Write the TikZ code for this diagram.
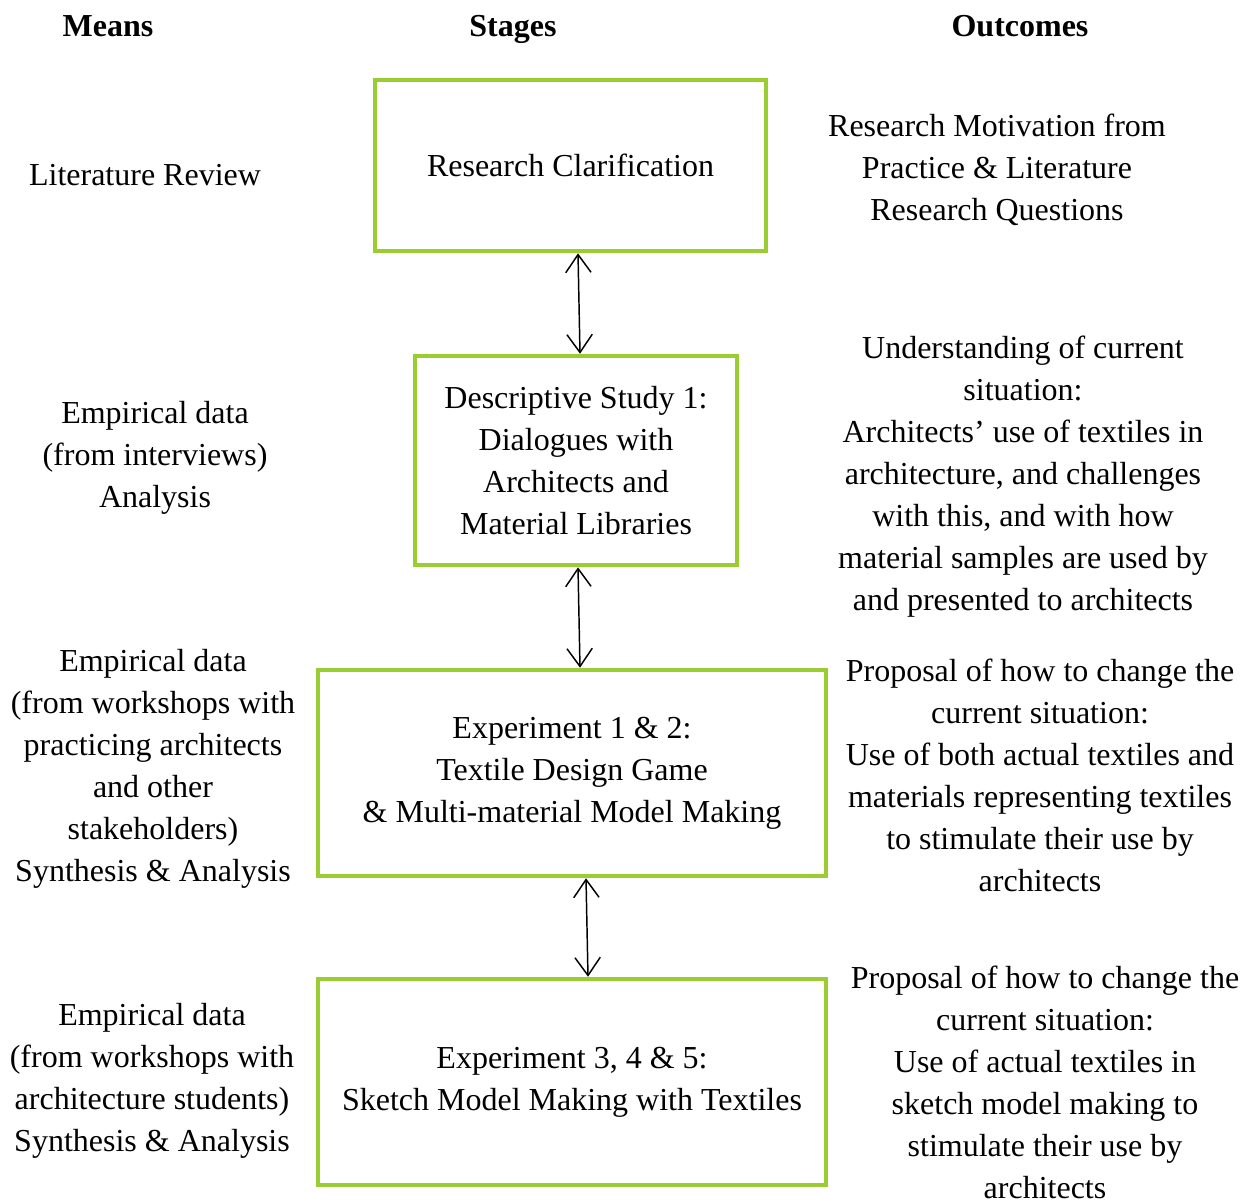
\documentclass[tikz,border=0pt]{standalone}
\usepackage{fontspec}
\setmainfont{Liberation Serif}
\usetikzlibrary{arrows.meta}
\definecolor{stagegreen}{HTML}{9ACD32}
\def\u{0.75pt}
\begin{document}
\begin{tikzpicture}[x=0.75pt,y=-0.75pt,
  every node/.style={font=\fontsize{24}{31.5}\selectfont, inner sep=0pt},
  head/.style={font=\fontsize{24}{31.5}\selectfont\bfseries},
  stagebox/.style={draw=stagegreen, line width=3.4pt, align=center},
  note/.style={align=center},
  link/.style={line width=1.1pt, {Straight Barb[length=13.5pt,width=19pt]}-{Straight Barb[length=13.5pt,width=19pt]}}]
\useasboundingbox (0,0) rectangle (1254,1203);
\fill[white] (0,0) rectangle (1254,1203);

% column headings
\node[head] (hmeans) at (108,26) {Means};
\node[head] (hstages) at (513,29) {Stages};
\node[head] (houtcomes) at (1020,26) {Outcomes};

% stages
\node[stagebox, minimum width=391*\u, minimum height=171*\u] (s1) at (570.5,165.5) {Research Clarification};
\node[stagebox, minimum width=322*\u, minimum height=209*\u] (s2) at (576,460.5)
  {Descriptive Study 1:\\Dialogues with\\Architects and\\Material Libraries};
\node[stagebox, minimum width=508*\u, minimum height=206*\u] (s3) at (572,773)
  {Experiment 1 \& 2:\\Textile Design Game\\\& Multi-material Model Making};
\node[stagebox, minimum width=508*\u, minimum height=206*\u] (s4) at (572,1082)
  {Experiment 3, 4 \& 5:\\Sketch Model Making with Textiles};

% links between stages
\draw[link] ([xshift=7.5*\u]s1.south) -- ([xshift=4*\u]s2.north);
\draw[link] ([xshift=2*\u]s2.south) -- ([xshift=8*\u]s3.north);
\draw[link] ([xshift=14*\u]s3.south) -- ([xshift=16*\u]s4.north);

% means
\node[note] (m1) at (145,175) {Literature Review};
\node[note] (m2) at (155,458) {Empirical data\\(from interviews)\\Analysis};
\node[note] (m3) at (153,769) {Empirical data\\(from workshops with\\practicing architects\\and other\\stakeholders)\\Synthesis \& Analysis};
\node[note] (m4) at (152,1081) {Empirical data\\(from workshops with\\architecture students)\\Synthesis \& Analysis};

% outcomes
\node[note] (o1) at (997,170) {Research Motivation from\\Practice \& Literature\\Research Questions};
\node[note] (o2) at (1023,477) {Understanding of current\\situation:\\Architects’ use of textiles in\\architecture, and challenges\\with this, and with how\\material samples are used by\\and presented to architects};
\node[note] (o3) at (1040,775) {Proposal of how to change the\\current situation:\\Use of both actual textiles and\\materials representing textiles\\to stimulate their use by\\architects};
\node[note] (o4) at (1045,1082) {Proposal of how to change the\\current situation:\\Use of actual textiles in\\sketch model making to\\stimulate their use by\\architects};
\end{tikzpicture}
\end{document}
